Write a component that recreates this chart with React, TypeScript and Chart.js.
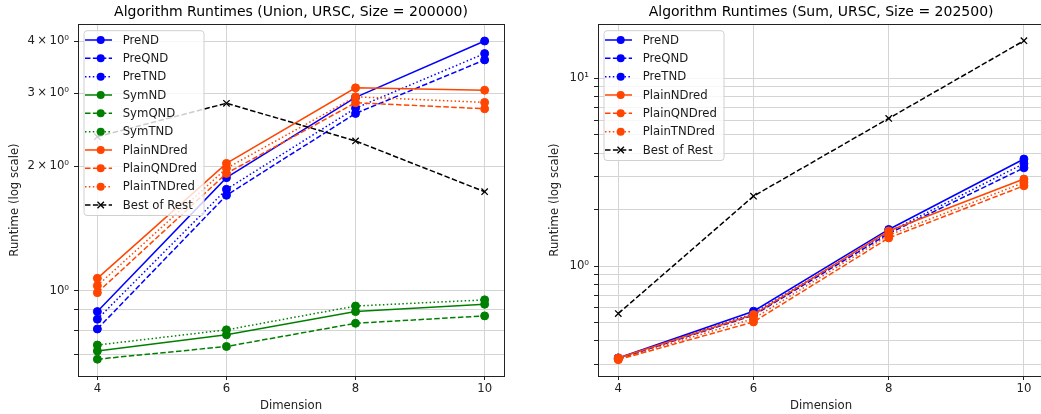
import React, { useEffect, useRef } from "react";
import { Chart, registerables } from "chart.js";
Chart.register(...registerables);

// ---------- data ----------
const dimensions = [4, 6, 8, 10];

// Union, URSC, Size = 200000
const unionPreND = [0.89, 1.875, 2.93, 4.01];
const unionPreQND = [0.808, 1.7, 2.68, 3.61];
const unionPreTND = [0.853, 1.757, 2.76, 3.74];
const unionSymND = [0.715, 0.782, 0.89, 0.927];
const unionSymQND = [0.683, 0.733, 0.834, 0.869];
const unionSymTND = [0.739, 0.804, 0.918, 0.95];
const unionPlainNDred = [1.071, 2.03, 3.09, 3.05];
const unionPlainQNDred = [0.989, 1.92, 2.845, 2.75];
const unionPlainTNDred = [1.028, 1.975, 2.94, 2.85];
const unionBestOfRest = [2.355, 2.836, 2.3, 1.734];

// Sum, URSC, Size = 202500
const sumPreND = [0.325, 0.576, 1.569, 3.72];
const sumPreQND = [0.322, 0.548, 1.493, 3.34];
const sumPreTND = [0.324, 0.56, 1.52, 3.52];
const sumPlainNDred = [0.325, 0.553, 1.54, 2.91];
const sumPlainQNDred = [0.318, 0.505, 1.415, 2.68];
const sumPlainTNDred = [0.32, 0.526, 1.463, 2.79];
const sumBestOfRest = [0.56, 2.36, 6.12, 15.86];

// ticks
const unionYTicks = [0.7, 0.8, 0.9, 1, 2, 3, 4];
const unionYLabels: [number, string][] = [
  [1, "10\u2070"],
  [2, "2\u2009\u00d7\u200910\u2070"],
  [3, "3\u2009\u00d7\u200910\u2070"],
  [4, "4\u2009\u00d7\u200910\u2070"],
];
const sumYTicks = [0.3, 0.4, 0.5, 0.6, 0.7, 0.8, 0.9, 1, 2, 3, 4, 5, 6, 7, 8, 9, 10];
const sumYLabels: [number, string][] = [
  [1, "10\u2070"],
  [10, "10\u00b9"],
];

const BLUE = "#0000ff";
const GREEN = "#008000";
const ORANGE = "#ff4500";
const BLACK = "#000000";
const FONT = "'DejaVu Sans', sans-serif";

type Style = "solid" | "dashed" | "dotted";
const DASH: Record<Style, number[]> = {
  solid: [],
  dashed: [5.5, 2.4],
  dotted: [1.5, 2.4],
};

function ds(label: string, values: number[], color: string, style: Style, marker: "o" | "x" = "o") {
  return {
    label,
    data: dimensions.map((d, i) => ({ x: d, y: values[i] })),
    borderColor: color,
    backgroundColor: color,
    borderWidth: 1.5,
    borderDash: DASH[style],
    pointStyle: marker === "x" ? "crossRot" : "circle",
    pointRadius: marker === "x" ? 4.5 : 4,
    pointBorderWidth: marker === "x" ? 1.3 : 1,
    pointBackgroundColor: color,
    pointBorderColor: color,
    tension: 0,
    fill: false,
  };
}

function makePlugins(title: string) {
  return [
    {
      id: "frameTitleLegend",
      afterDatasetsDraw(chart: any) {
        const { ctx, chartArea: ca } = chart;
        ctx.save();
        // frame
        ctx.strokeStyle = "#222";
        ctx.lineWidth = 1;
        ctx.setLineDash([]);
        ctx.strokeRect(Math.round(ca.left) + 0.5, Math.round(ca.top) + 0.5, Math.round(ca.right - ca.left), Math.round(ca.bottom - ca.top));
        // legend
        const sets = chart.data.datasets;
        const rowH = 18.33;
        const x0 = ca.left + 6;
        const y0 = ca.top + 6.7;
        const w = 120;
        const h = sets.length * rowH + 1.5;
        ctx.beginPath();
        const r = 3;
        ctx.moveTo(x0 + r, y0);
        ctx.lineTo(x0 + w - r, y0);
        ctx.quadraticCurveTo(x0 + w, y0, x0 + w, y0 + r);
        ctx.lineTo(x0 + w, y0 + h - r);
        ctx.quadraticCurveTo(x0 + w, y0 + h, x0 + w - r, y0 + h);
        ctx.lineTo(x0 + r, y0 + h);
        ctx.quadraticCurveTo(x0, y0 + h, x0, y0 + h - r);
        ctx.lineTo(x0, y0 + r);
        ctx.quadraticCurveTo(x0, y0, x0 + r, y0);
        ctx.closePath();
        ctx.fillStyle = "rgba(255,255,255,0.8)";
        ctx.fill();
        ctx.strokeStyle = "#d0d0d0";
        ctx.lineWidth = 1;
        ctx.stroke();
        sets.forEach((s: any, i: number) => {
          const cy = y0 + 9.3 + i * rowH;
          ctx.strokeStyle = s.borderColor;
          ctx.lineWidth = 1.5;
          ctx.setLineDash(s.borderDash || []);
          ctx.beginPath();
          ctx.moveTo(x0 + 1, cy);
          ctx.lineTo(x0 + 28, cy);
          ctx.stroke();
          ctx.setLineDash([]);
          const mx = x0 + 16.7;
          if (s.pointStyle === "crossRot") {
            ctx.lineWidth = 1.3;
            const d = 3.2;
            ctx.beginPath();
            ctx.moveTo(mx - d, cy - d);
            ctx.lineTo(mx + d, cy + d);
            ctx.moveTo(mx - d, cy + d);
            ctx.lineTo(mx + d, cy - d);
            ctx.stroke();
          } else {
            ctx.fillStyle = s.borderColor;
            ctx.beginPath();
            ctx.arc(mx, cy, 4, 0, Math.PI * 2);
            ctx.fill();
          }
          ctx.fillStyle = "#1a1a1a";
          ctx.font = `11.7px ${FONT}`;
          ctx.textAlign = "left";
          ctx.textBaseline = "middle";
          ctx.fillText(s.label, x0 + 38.7, cy + 0.5);
        });
        ctx.restore();
      },
      afterDraw(chart: any) {
        const { ctx, chartArea: ca } = chart;
        ctx.save();
        ctx.fillStyle = "#000";
        ctx.font = `14px ${FONT}`;
        ctx.textAlign = "center";
        ctx.textBaseline = "middle";
        ctx.fillText(title, (ca.left + ca.right) / 2, 12);
        ctx.restore();
      },
    },
  ];
}

function makeOptions(yMin: number, yMax: number, yTicks: number[], yLabels: [number, string][], padRight: number, yTitlePad: number) {
  const grid = {
    color: "#d4d4d4",
    lineWidth: 1,
    borderDash: [2.5, 1.5],
    tickColor: "#222",
    tickBorderDash: [],
    tickLength: 4,
    tickWidth: 1,
    drawTicks: true,
  };
  const tickFont = { family: FONT, size: 11.7 };
  return {
    responsive: false,
    animation: false,
    events: [],
    layout: { padding: { left: 0, right: padRight, top: 24, bottom: 0 } },
    plugins: { legend: { display: false }, title: { display: false }, tooltip: { enabled: false } },
    scales: {
      x: {
        type: "linear",
        bounds: "data",
        min: 3.7,
        max: 10.3,
        afterBuildTicks: (s: any) => {
          s.ticks = dimensions.map((v) => ({ value: v }));
        },
        afterFit: (s: any) => {
          s.height = 38;
        },
        ticks: { font: tickFont, color: "#222", padding: 2, autoSkip: false, maxRotation: 0, callback: (v: any) => String(v) },
        grid,
        border: { display: false },
        title: { display: true, text: "Dimension", font: tickFont, color: "#222", padding: { top: 0, bottom: 1 } },
      },
      y: {
        type: "logarithmic",
        bounds: "data",
        min: yMin,
        max: yMax,
        afterBuildTicks: (s: any) => {
          s.ticks = yTicks.map((v) => ({ value: v }));
        },
        afterDataLimits: (s: any) => {
          s.min = yMin;
          s.max = yMax;
        },
        afterFit: (s: any) => {
          s.width = 78;
        },
        ticks: {
          font: tickFont,
          color: "#222",
          padding: 5,
          autoSkip: false,
          callback: (v: any) => {
            const f = yLabels.find(([k]) => Math.abs(k - v) < 1e-9);
            return f ? f[1] : "";
          },
        },
        grid,
        border: { display: false },
        title: { display: true, text: "Runtime (log scale)", font: tickFont, color: "#222", padding: { top: yTitlePad, bottom: 0 } },
      },
    },
  };
}

function withOrder(sets: any[]) {
  return sets.map((s, i) => ({ ...s, order: sets.length - i }));
}

function LogChart(props: { left: number; width: number; title: string; datasets: any[]; options: any }) {
  const ref = useRef<HTMLCanvasElement | null>(null);
  useEffect(() => {
    if (!ref.current) return;
    const chart = new Chart(ref.current, {
      type: "line",
      data: { datasets: withOrder(props.datasets) },
      options: props.options,
      plugins: makePlugins(props.title),
    } as any);
    return () => chart.destroy();
  }, []);
  return (
    <canvas
      ref={ref}
      width={props.width}
      height={414}
      style={{ position: "absolute", left: props.left, top: 0, width: props.width, height: 414 }}
    />
  );
}

export default function App() {
  const unionSets = [
    ds("PreND", unionPreND, BLUE, "solid"),
    ds("PreQND", unionPreQND, BLUE, "dashed"),
    ds("PreTND", unionPreTND, BLUE, "dotted"),
    ds("SymND", unionSymND, GREEN, "solid"),
    ds("SymQND", unionSymQND, GREEN, "dashed"),
    ds("SymTND", unionSymTND, GREEN, "dotted"),
    ds("PlainNDred", unionPlainNDred, ORANGE, "solid"),
    ds("PlainQNDred", unionPlainQNDred, ORANGE, "dashed"),
    ds("PlainTNDred", unionPlainTNDred, ORANGE, "dotted"),
    ds("Best of Rest", unionBestOfRest, BLACK, "dashed", "x"),
  ];
  const sumSets = [
    ds("PreND", sumPreND, BLUE, "solid"),
    ds("PreQND", sumPreQND, BLUE, "dashed"),
    ds("PreTND", sumPreTND, BLUE, "dotted"),
    ds("PlainNDred", sumPlainNDred, ORANGE, "solid"),
    ds("PlainQNDred", sumPlainQNDred, ORANGE, "dashed"),
    ds("PlainTNDred", sumPlainTNDred, ORANGE, "dotted"),
    ds("Best of Rest", sumBestOfRest, BLACK, "dashed", "x"),
  ];
  return (
    <div style={{ position: "fixed", left: 0, top: 0, width: 1041, height: 414, overflow: "hidden", background: "#fff" }}>
      <LogChart
        left={0}
        width={520}
        title="Algorithm Runtimes (Union, URSC, Size = 200000)"
        datasets={unionSets}
        options={makeOptions(0.622, 4.408, unionYTicks, unionYLabels, 16, 8)}
      />
      <LogChart
        left={520}
        width={530}
        title="Algorithm Runtimes (Sum, URSC, Size = 202500)"
        datasets={sumSets}
        options={makeOptions(0.2604, 19.47, sumYTicks, sumYLabels, 5, 28)}
      />
    </div>
  );
}
